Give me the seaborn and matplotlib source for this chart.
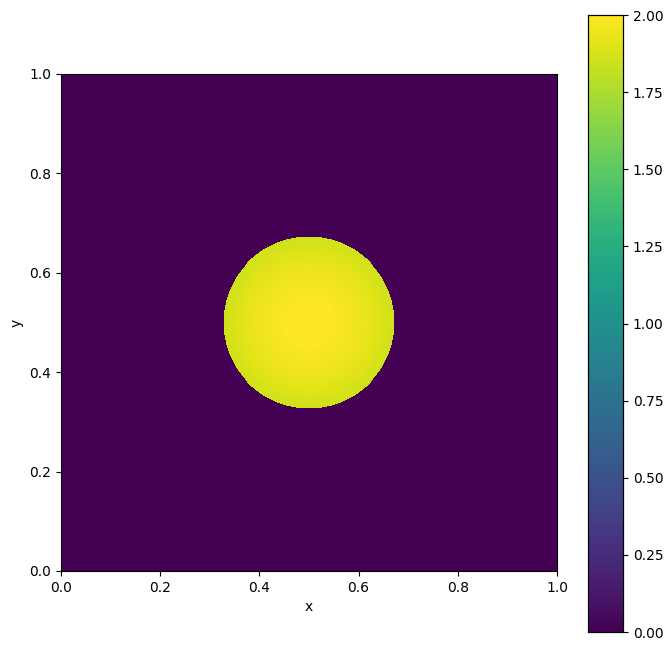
import numpy as np
import seaborn as sns
import matplotlib
matplotlib.use("Agg")
import matplotlib.pyplot as plt

# disc parameters
n_cells = 500
center = (0.5, 0.5)
radius = 0.173
peak_value = 2.0      # value at the centre of the disc
edge_value = 1.85     # value at the rim of the disc
background = 0.0

x = (np.arange(n_cells) + 0.5) / n_cells
y = (np.arange(n_cells) + 0.5) / n_cells
X, Y = np.meshgrid(x, y)
r2 = (X - center[0]) ** 2 + (Y - center[1]) ** 2
field = np.where(r2 <= radius ** 2,
                 peak_value - (peak_value - edge_value) * r2 / radius ** 2,
                 background)

fig = plt.figure(figsize=(6.69, 6.49), dpi=100)
ax = fig.add_axes([61 / 669, 1 - 571 / 649, 496 / 669, 497 / 649])
cax = fig.add_axes([588 / 669, 1 - 632 / 649, 35 / 669, 617 / 649])

sns.heatmap(field, ax=ax, cbar_ax=cax, cmap="viridis", vmin=0, vmax=2,
            xticklabels=False, yticklabels=False, rasterized=True)
ax.invert_yaxis()

ticks = np.array([0.0, 0.2, 0.4, 0.6, 0.8, 1.0])
ax.set_xticks(ticks * n_cells)
ax.set_xticklabels([f"{t:.1f}" for t in ticks])
ax.set_yticks(ticks * n_cells)
ax.set_yticklabels([f"{t:.1f}" for t in ticks], rotation=0)
ax.tick_params(length=3.5, width=0.8, labelsize=10)
for s in ax.spines.values():
    s.set_visible(True)
    s.set_linewidth(0.8)
ax.set_xlabel("x")
ax.set_ylabel("y")

cb_ticks = [0.0, 0.25, 0.5, 0.75, 1.0, 1.25, 1.5, 1.75, 2.0]
cax.set_yticks(cb_ticks)
cax.set_yticklabels([f"{t:.2f}" for t in cb_ticks])
cax.tick_params(length=3.5, width=0.8, labelsize=10)
for s in cax.spines.values():
    s.set_visible(True)
    s.set_linewidth(0.8)

fig.savefig("out.png", dpi=100)
